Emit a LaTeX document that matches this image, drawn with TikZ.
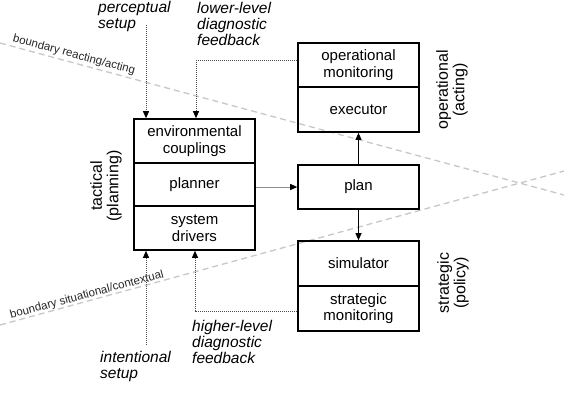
\documentclass[tikz,border=0pt]{standalone}
\usepackage{fontspec}
\setmainfont{Liberation Sans}
\usetikzlibrary{arrows.meta}
\tikzset{
  part/.style={draw=black, line width=1.6pt, minimum width=121pt, minimum height=44pt, inner sep=0pt, align=center,
    font=\fontsize{15}{16.5}\selectfont},
  flow/.style={line width=0.9pt, -{Triangle[length=7pt,width=6pt,color=black]}},
  feed/.style={line width=0.8pt, draw=black!70, dash pattern=on 1pt off 1pt, -{Triangle[length=7pt,width=6pt,color=black]}},
  feedplain/.style={line width=0.8pt, draw=black!70, dash pattern=on 1pt off 1pt},
  ital/.style={anchor=north west, inner sep=0pt, align=left, font=\fontsize{15.5}{16}\selectfont\itshape},
  level/.style={rotate=90, inner sep=0pt, align=center, font=\fontsize{16}{16.5}\selectfont},
  boundary/.style={draw=black!22, line width=1.3pt, dash pattern=on 6pt off 4pt},
  blabel/.style={inner sep=0pt, font=\fontsize{11.5}{12}\selectfont, text=black!85}
}
\begin{document}
\begin{tikzpicture}[x=1pt, y=-1pt]
\useasboundingbox (0,0) rectangle (564,416);
% boundaries
\coordinate (ba1) at (0,43);
\coordinate (ba2) at (564,195);
\coordinate (bs1) at (0,325);
\coordinate (bs2) at (564,171);
\draw[boundary] (ba1) -- (ba2);
\draw[boundary] (bs1) -- (bs2);
\node[blabel, rotate=-15] (lreact) at (74,55) {boundary reacting/acting};
\node[blabel, rotate=15] (lsit) at (87,295) {boundary situational/contextual};
% left stack
\node[part] (env) at (194.5,141) {environmental\\couplings};
\node[part, minimum height=43pt] (planner) at (194.5,184.5) {planner};
\node[part] (drivers) at (194.5,228) {system\\drivers};
% right stacks
\node[part] (opmon) at (358.5,65) {operational\\monitoring};
\node[part, minimum height=45pt] (executor) at (358.5,109.5) {executor};
\node[part] (plan) at (358.5,187) {plan};
\node[part, minimum height=45pt] (sim) at (358.5,263.5) {simulator};
\node[part, minimum height=45pt] (stratmon) at (358.5,308.5) {strategic\\monitoring};
% level labels
\node[level] (ltac) at (106,186) {tactical\\(planning)};
\node[level] (lop) at (452,90) {operational\\(acting)};
\node[level] (lstr) at (453,283) {strategic\\(policy)};
% italic labels
\node[ital] (tperc) at (98,1) {perceptual\\setup};
\node[ital] (tlow) at (197,2) {lower-level\\diagnostic\\feedback};
\node[ital] (thigh) at (192,320) {higher-level\\diagnostic\\feedback};
\node[ital] (tint) at (100,351) {intentional\\setup};
% flows
\draw[flow] (plan.north) -- (executor.south);
\draw[flow] (plan.south) -- (sim.north);
\draw[flow, draw=black!45] (plan.west -| planner.east) -- (plan.west);
% feedback connectors
\coordinate (ps) at (146,25);
\draw[feed] (ps) -- (ps |- env.north);
\coordinate (llf) at (196,60);
\draw[feedplain] (opmon.west |- llf) -- (llf);
\draw[feed] (llf) -- (llf |- env.north);
\coordinate (is) at (146,345);
\draw[feed] (is) -- (is |- drivers.south);
\coordinate (hlf) at (195,311);
\draw[feedplain] (stratmon.west |- hlf) -- (hlf);
\draw[feed] (hlf) -- (hlf |- drivers.south);
\end{tikzpicture}
\end{document}
